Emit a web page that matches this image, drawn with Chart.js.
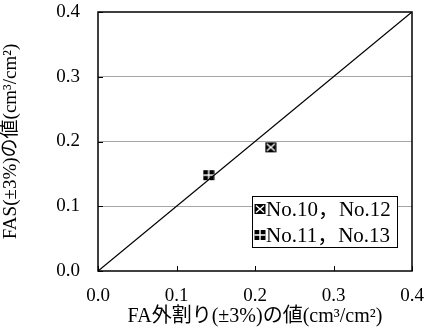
<!DOCTYPE html>
<html><head><meta charset="utf-8">
<script src="https://cdn.jsdelivr.net/npm/chart.js@4"></script>
<style>html,body{margin:0;padding:0;background:#fff}#w{width:430px;height:329px}</style>
</head><body><div id="w"><canvas id="c" width="430" height="329"></canvas></div>
<script>
const seriesLabels = ['No.10，No.12', 'No.11，No.13'];
const seriesA = [{x: 0.220, y: 0.191}];
const seriesB = [{x: 0.141, y: 0.148}];
const lineXY = [{x: 0, y: 0}, {x: 0.4, y: 0.4}];
const tickValues = [0, 0.1, 0.2, 0.3, 0.4];
const xTitle = 'FA外割り(±3%)の値(cm³/cm²)';
const yTitle = 'FAS(±3%)の値(cm³/cm²)';

const FONT = '"Liberation Serif", "Noto Sans CJK JP", serif';

function marker(kind) {
  const s = 12, c = document.createElement('canvas');
  c.width = s; c.height = s;
  const g = c.getContext('2d');
  g.fillStyle = '#000'; g.fillRect(0.5, 1, 11, 10);
  g.strokeStyle = '#fff'; g.lineWidth = 1.4;
  g.beginPath();
  if (kind === 'x') { g.moveTo(2, 2.5); g.lineTo(10, 9.5); g.moveTo(10, 2.5); g.lineTo(2, 9.5); }
  else { g.moveTo(6, 1); g.lineTo(6, 11); g.moveTo(0.5, 6); g.lineTo(11.5, 6); }
  g.stroke();
  return c;
}
const mX = marker('x'), mP = marker('p');

const frame = {
  id: 'frame',
  afterDatasetsDraw(chart) {
    const {ctx, chartArea: a, scales: {x, y}} = chart;
    ctx.save();
    ctx.strokeStyle = '#000'; ctx.lineWidth = 1;
    tickValues.forEach(v => {
      const px = Math.round(x.getPixelForValue(v)) + 0.5;
      ctx.beginPath(); ctx.moveTo(px, a.bottom); ctx.lineTo(px, a.bottom - 5); ctx.stroke();
      const py = Math.round(y.getPixelForValue(v)) + 0.5;
      ctx.beginPath(); ctx.moveTo(a.left, py); ctx.lineTo(a.left + 5, py); ctx.stroke();
    });
    ctx.lineWidth = 1.5;
    ctx.strokeRect(a.left, a.top, a.right - a.left, a.bottom - a.top);
    // legend
    const lx = 252.5, ly = 196.5, lw = 145, lh = 51;
    ctx.fillStyle = '#fff'; ctx.fillRect(lx, ly, lw, lh);
    ctx.lineWidth = 1; ctx.strokeStyle = '#000'; ctx.strokeRect(lx, ly, lw, lh);
    ctx.fillStyle = '#000'; ctx.font = '21px ' + FONT; ctx.textBaseline = 'middle';
    [[mX, seriesLabels[0], 209], [mP, seriesLabels[1], 235]].forEach(([m, t, cy]) => {
      ctx.drawImage(m, 254, cy - 6);
      ctx.fillText(t, 266, cy + 1, 129);
    });
    ctx.restore();
  }
};

new Chart(document.getElementById('c'), {
  type: 'scatter',
  data: {
    datasets: [
      {type: 'line', data: lineXY, borderColor: '#000', borderWidth: 1.3, pointRadius: 0, fill: false},
      {label: seriesLabels[0], data: seriesA, pointStyle: mX, pointRadius: 6},
      {label: seriesLabels[1], data: seriesB, pointStyle: mP, pointRadius: 6}
    ]
  },
  plugins: [frame],
  options: {
    responsive: false, animation: false, devicePixelRatio: 1,
    layout: {padding: {top: 12, right: 18, left: 0, bottom: 0}},
    plugins: {legend: {display: false}, tooltip: {enabled: false}},
    scales: {
      x: {
        type: 'linear', min: 0, max: 0.4,
        afterBuildTicks: s => { s.ticks = tickValues.map(v => ({value: v})); },
        afterFit: s => { s.height = 58; s.paddingLeft = 0; s.paddingRight = 0; },
        grid: {display: false, drawTicks: false},
        border: {display: false},
        ticks: {color: '#000', font: {family: FONT, size: 19}, padding: 14, maxRotation: 0,
                callback: v => v.toFixed(1)},
        title: {display: true, text: xTitle, color: '#000', font: {family: FONT, size: 20}, padding: {top: 0, bottom: 0}}
      },
      y: {
        type: 'linear', min: 0, max: 0.4,
        afterBuildTicks: s => { s.ticks = tickValues.map(v => ({value: v})); },
        afterFit: s => { s.width = 98; s.paddingTop = 0; s.paddingBottom = 0; },
        grid: {drawTicks: false, color: ctx => (ctx.tick && ctx.tick.value > 0 && ctx.tick.value < 0.4) ? '#a6a6a6' : 'rgba(0,0,0,0)', lineWidth: 1},
        border: {display: false},
        ticks: {color: '#000', font: {family: FONT, size: 19}, padding: 18, callback: v => v.toFixed(1)},
        title: {display: true, text: yTitle, color: '#000', font: {family: FONT, size: 19}, padding: {top: 0, bottom: 8}}
      }
    }
  }
});
</script></body></html>
